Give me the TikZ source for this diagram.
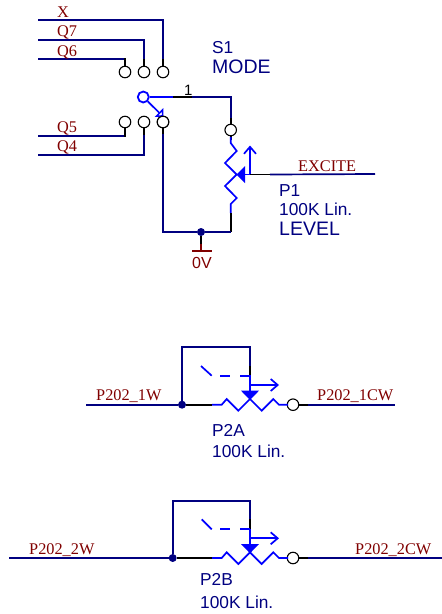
\documentclass[tikz,border=0pt]{standalone}
\usepackage{fontspec}
\setmainfont{Liberation Serif}
\setsansfont{Liberation Sans}
\usetikzlibrary{calc,arrows.meta}

\definecolor{wirecol}{HTML}{000080}
\definecolor{symcol}{HTML}{0000FF}
\definecolor{netcol}{HTML}{800000}

\tikzset{
    wire/.style = {draw=wirecol, line width=1.7pt},
    lead/.style = {draw=black, line width=1.7pt},
    sym/.style = {draw=symcol, line width=1.7pt, line join=miter},
    pin/.style = {draw=black, fill=white, circle, inner sep=0pt, minimum size=11.5pt, line width=1.1pt},
    dot/.style = {fill=wirecol, circle, inner sep=0pt, minimum size=8pt},
    netlabel/.style = {anchor=base west, inner sep=0pt, text=netcol, font=\fontsize{16.3}{16.3}\selectfont},
    partlabel/.style = {anchor=base west, inner sep=0pt, text=wirecol, font=\sffamily\fontsize{17.3}{17.3}\selectfont},
    widelabel/.style = {partlabel, font=\sffamily\fontsize{19.5}{19.5}\selectfont},
    openhead/.style = {-{Straight Barb[length=7pt,width=12pt,line width=1.7pt]}}
}

\begin{document}
\begin{tikzpicture}[x=1pt, y=-1pt]
        \useasboundingbox (0,0) rectangle (442,614);

        % switch S1
        \node[pin] (p6) at (125,72) {};
        \node[pin] (p7) at (144,72) {};
        \node[pin] (px) at (163,72) {};
        \node[pin] (p5) at (125,122) {};
        \node[pin] (p4) at (144,122) {};
        \node[pin] (p0) at (163,122) {};
        \node[draw=symcol, fill=white, circle, inner sep=0pt, minimum size=11pt, line width=1.8pt] (com) at (143.3,97) {};

        \coordinate (xend) at (38,20);
        \coordinate (q7end) at (38,40);
        \coordinate (q6end) at (38,59);
        \coordinate (q5end) at (38,136);
        \coordinate (q4end) at (38,155);

        \draw[wire] (xend) -- (163,20) -- (163,60);
        \draw[lead] (163,59) -- (px);
        \draw[wire] (q7end) -- (144,40) -- (144,60);
        \draw[lead] (144,59) -- (p7);
        \draw[wire] (q6end) -- (125,59);
        \draw[lead] (125,58.2) -- (p6);
        \draw[wire] (q5end) -- (125,136);
        \draw[lead] (125,136.8) -- (p5);
        \draw[wire] (q4end) -- (144,155) -- (144,135);
        \draw[lead] (144,135) -- (p4);

        \draw[sym, -{Triangle[open,length=6pt,width=12pt,line width=1.7pt]}] (com) -- (163.3,116.7);
        \node[pin] at (p0) {};

        % pot P1
        \node[pin] (top) at (230.7,130) {};
        \node[dot] (gnd) at (201,232) {};
        \coordinate (excite) at (375,174);
        \coordinate (barl) at (192,251);
        \coordinate (barr) at (212,251);

        \draw[sym] (com) -- (173,97);
        \draw[lead] (173,97) -- (192,97);
        \draw[wire] (192,97) -- (230.7,97) -- (230.7,120);
        \draw[lead] (230.7,118) -- (top);
        \draw[lead] (top) -- (230.7,140);
        \draw[sym] (230.7,137) -- (230.7,143) -- (236.7,151) -- (225,163) -- (236.7,174.5)
            -- (225,186) -- (236.7,198) -- (230.7,204) -- (230.7,213);
        \draw[lead] (230.7,213) -- (230.7,232);
        \draw[wire] (gnd) -- (230.7,232);
        \draw[lead] (163,128) -- (163,135);
        \draw[wire] (163,134) -- (163,232) -- (gnd);
        \draw[lead] (gnd) -- (201,244);
        \draw[draw=netcol, line width=1.7pt] (201,244) -- (201,251);
        \draw[draw=netcol, line width=1.7pt] (barl) -- (barr);
        \fill[symcol] (236.5,174.5) -- (245,166) -- (245,183) -- cycle;
        \draw[sym] (245,174.5) -- (250,174.5);
        \draw[sym, openhead] (250,174.5) -- (250,145.5);
        \draw[lead] (250,174.5) -- (270,174.5);
        \draw[wire] (270,174.5) -- (excite);

        \node[netlabel] (xlabel) at (57,17) {X};
        \node[netlabel] (q7label) at (57,36.5) {Q7};
        \node[netlabel] (q6label) at (57,56) {Q6};
        \node[netlabel] (q5label) at (57,132) {Q5};
        \node[netlabel] (q4label) at (57,151) {Q4};
        \node[netlabel, font=\sffamily\fontsize{16}{16}\selectfont] (zerov) at (192,268) {0V};
        \node[netlabel] (excitelabel) at (298,171) {EXCITE};
        \node[partlabel] (s1) at (212,53) {S1};
        \node[widelabel] (mode) at (212,73) {MODE};
        \node[partlabel, text=black, font=\sffamily\fontsize{15}{15}\selectfont] (one) at (184,95) {1};
        \node[partlabel] (p1name) at (279,196) {P1};
        \node[partlabel] (p1val) at (279,215) {100K Lin.};
        \node[widelabel] (p1level) at (279,235) {LEVEL};

        % pot P2A
        \node[pin] (acw) at (293,404.7) {};
        \node[dot] (aw) at (182,404.7) {};
        \coordinate (awend) at (86,404.7);
        \coordinate (acwend) at (394.5,404.7);

        \draw[wire] (awend) -- (aw);
        \draw[lead] (aw) -- (212,404.7);
        \draw[sym] (212,404.7) -- (221.7,404.7) -- (226.7,399) -- (238.3,410.7) -- (250,399)
            -- (261.7,410.7) -- (273.3,399) -- (279,404.7) -- (288,404.7);
        \draw[lead] (acw) -- (308,404.7);
        \draw[wire] (308,404.7) -- (acwend);
        \draw[wire] (aw) -- (182,347) -- (250,347) -- (250,367);
        \draw[lead] (250,366) -- (250,376);
        \draw[sym] (250,375) -- (250,391);
        \fill[symcol] (250,400) -- (241,390.7) -- (259,390.7) -- cycle;
        \draw[sym, openhead] (250,385) -- (279,385);
        \draw[sym] (201,366) -- (211.7,375.7);
        \draw[sym, dash pattern=on 10pt off 10pt] (220,375.7) -- (250,375.7);

        \node[netlabel] (awlabel) at (96,400) {P202\_1W};
        \node[netlabel] (acwlabel) at (317,400) {P202\_1CW};
        \node[partlabel] (p2a) at (212,436) {P2A};
        \node[partlabel] (p2aval) at (212,457) {100K Lin.};

        % pot P2B
        \node[pin] (bcw) at (293,558) {};
        \node[dot] (bw) at (172.7,558) {};
        \coordinate (bwend) at (9,558);
        \coordinate (bcwend) at (442,558);

        \draw[wire] (bwend) -- (bw);
        \draw[lead] (bw) -- (212,558);
        \draw[sym] (212,558) -- (221.7,558) -- (226.7,552.3) -- (238.3,564) -- (250,552.3)
            -- (261.7,564) -- (273.3,552.3) -- (279,558) -- (288,558);
        \draw[lead] (bcw) -- (308,558);
        \draw[wire] (308,558) -- (bcwend);
        \draw[wire] (bw) -- (172.7,500.7) -- (250,500.7) -- (250,520);
        \draw[lead] (250,519) -- (250,530);
        \draw[sym] (250,529) -- (250,544);
        \fill[symcol] (250,553.3) -- (241,544) -- (259,544) -- cycle;
        \draw[sym, openhead] (250,538.3) -- (279,538.3);
        \draw[sym] (201.7,519.3) -- (211.7,529.3);
        \draw[sym, dash pattern=on 10pt off 10pt] (220,529.3) -- (250,529.3);

        \node[netlabel] (bwlabel) at (29,554) {P202\_2W};
        \node[netlabel] (bcwlabel) at (355,554) {P202\_2CW};
        \node[partlabel] (p2b) at (200,585) {P2B};
        \node[partlabel] (p2bval) at (200,608) {100K Lin.};
    \end{tikzpicture}
\end{document}
